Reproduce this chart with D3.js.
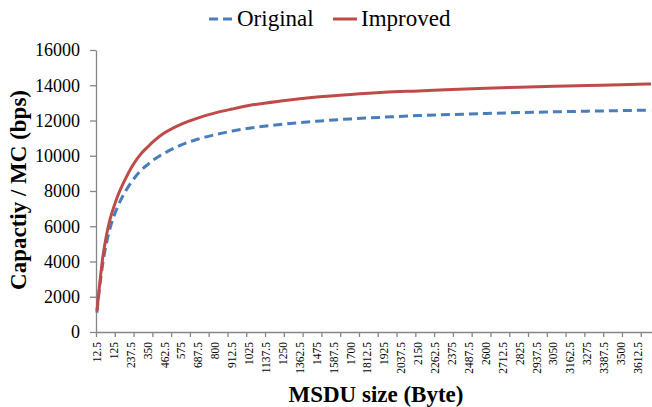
<!DOCTYPE html>
<html>
<head>
<meta charset="utf-8">
<script src="https://cdn.jsdelivr.net/npm/d3@7"></script>
<style>
  body { margin: 0; background: #fff; }
  svg, svg text { font-family: "Liberation Serif", "Times New Roman", serif; }
  svg { display: block; }
</style>
</head>
<body>
<script>
'use strict';

// MSDU sizes: one category every 12.5 byte
const categories = d3.range(1, 297).map(i => i * 12.5);

// labelled categories on the x axis
const tickLabels = [12.5, 125, 237.5, 350, 462.5, 575, 687.5, 800, 912.5, 1025,
  1137.5, 1250, 1362.5, 1475, 1587.5, 1700, 1812.5, 1925, 2037.5, 2150, 2262.5,
  2375, 2487.5, 2600, 2712.5, 2825, 2937.5, 3050, 3162.5, 3275, 3387.5, 3500, 3612.5];

const yTicks = [0, 2000, 4000, 6000, 8000, 10000, 12000, 14000, 16000];

// values at these sizes
const sizes = [12.5, 25, 50, 75, 100, 125, 150, 200, 250, 300, 350, 400, 462.5,
  575, 687.5, 800, 912.5, 1025, 1250, 1475, 1700, 1925, 2150, 2375, 2600, 2825,
  3050, 3275, 3500, 3700];

const original = [1100, 2150, 3800, 5000, 5900, 6550, 7100, 7950, 8600, 9120,
  9500, 9830, 10150, 10620, 10950, 11200, 11400, 11560, 11790, 11960, 12090,
  12190, 12280, 12340, 12400, 12450, 12490, 12530, 12560, 12590];

const improved = [1200, 2250, 4150, 5450, 6400, 7100, 7700, 8650, 9450, 10050,
  10500, 10900, 11300, 11800, 12150, 12430, 12650, 12850, 13120, 13330, 13480,
  13600, 13680, 13760, 13830, 13890, 13940, 13990, 14030, 14070];

const W = 652, H = 407;
const plotL = 96, plotR = 652, plotT = 50, plotB = 332;
const axisColor = "#868686";
const serif = '"Liberation Serif", "Times New Roman", serif';

const svg = d3.select("body").append("svg")
    .attr("width", W)
    .attr("height", H);

let x = d3.scaleBand()
    .domain(categories)
    .range([plotL, plotR])
    .padding(0);

// index scale used for the tick marks between categories
let xIdx = d3.scaleLinear()
    .domain([0, categories.length])
    .range([plotL, plotR]);

let y = d3.scaleLinear()
    .domain([0, 16000])
    .range([plotB, plotT]);

// y axis
let gy = svg.append("g")
    .attr("transform", "translate(" + plotL + ",0)")
    .call(d3.axisLeft(y).tickValues(yTicks).tickFormat(d3.format("d"))
        .tickSize(6).tickSizeOuter(0).tickPadding(10));
gy.attr("font-family", null).attr("font-size", null);
gy.select(".domain").attr("stroke", axisColor).attr("stroke-width", 1.3);
gy.selectAll(".tick line").attr("stroke", axisColor).attr("stroke-width", 1.3);
gy.selectAll("text")
    .style("font-family", serif)
    .style("font-size", "18px")
    .attr("fill", "#000");

// x tick marks every 10 categories
let gxt = svg.append("g")
    .attr("transform", "translate(0," + plotB + ")")
    .call(d3.axisBottom(xIdx).tickValues(d3.range(0, categories.length + 1, 10))
        .tickSize(5).tickSizeOuter(0).tickFormat(""));
gxt.select(".domain").attr("stroke", axisColor).attr("stroke-width", 1.3);
gxt.selectAll(".tick line").attr("stroke", axisColor).attr("stroke-width", 1.3);

// x labels, rotated
let gx = svg.append("g")
    .attr("transform", "translate(0," + plotB + ")")
    .call(d3.axisBottom(x).tickValues(tickLabels).tickSize(0));
gx.attr("font-family", null).attr("font-size", null);
gx.select(".domain").remove();
gx.selectAll("text")
    .style("font-family", serif)
    .style("font-size", "11.5px")
    .attr("fill", "#000")
    .attr("transform", "rotate(-90)")
    .attr("x", -10)
    .attr("y", 0)
    .attr("dy", "0.35em")
    .attr("text-anchor", "end");

// lines
let line = d3.line()
    .x((d, i) => x(sizes[i]) + x.bandwidth() / 2)
    .y(d => y(d))
    .curve(d3.curveMonotoneX);

svg.append("path")
    .datum(original)
    .attr("fill", "none")
    .attr("stroke", "#4a7ebb")
    .attr("stroke-width", 3)
    .attr("stroke-dasharray", "9,5")
    .attr("d", line);

svg.append("path")
    .datum(improved)
    .attr("fill", "none")
    .attr("stroke", "#be4b48")
    .attr("stroke-width", 3)
    .attr("d", line);

// axis titles
svg.append("text")
    .attr("transform", "translate(26,190) rotate(-90)")
    .attr("text-anchor", "middle")
    .style("font-family", serif)
    .attr("font-size", 23)
    .attr("font-weight", "bold")
    .text("Capactiy / MC (bps)");

svg.append("text")
    .attr("x", 376)
    .attr("y", 402)
    .attr("text-anchor", "middle")
    .style("font-family", serif)
    .attr("font-size", 23)
    .attr("font-weight", "bold")
    .text("MSDU size (Byte)");

// legend
let legend = [
  {name: "Original", color: "#4a7ebb", dash: "9,5", x0: 209},
  {name: "Improved", color: "#be4b48", dash: null, x0: 333}
];
let lg = svg.append("g").selectAll("g")
    .data(legend)
    .enter().append("g");
lg.append("line")
    .attr("x1", d => d.x0)
    .attr("x2", d => d.x0 + 24)
    .attr("y1", 19)
    .attr("y2", 19)
    .attr("stroke", d => d.color)
    .attr("stroke-width", 3)
    .attr("stroke-dasharray", d => d.dash);
lg.append("text")
    .attr("x", d => d.x0 + 28)
    .attr("y", 26)
    .style("font-family", serif)
    .attr("font-size", 23)
    .text(d => d.name);
</script>
</body>
</html>
